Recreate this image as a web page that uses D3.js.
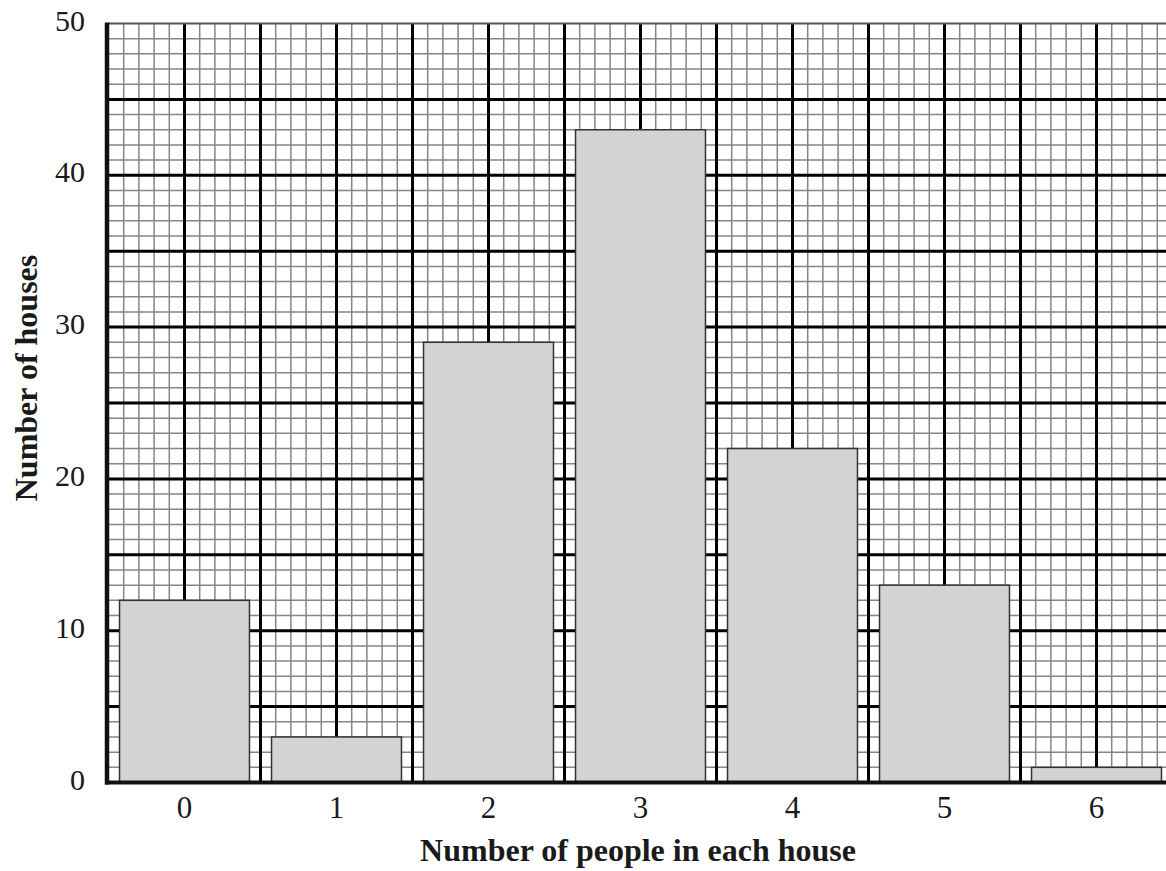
<!DOCTYPE html>
<html>
<head>
<meta charset="utf-8">
<script src="https://cdn.jsdelivr.net/npm/d3@7"></script>
<style>
  html, body { margin: 0; padding: 0; background: #fff; overflow: hidden; }
  svg { display: block; }
</style>
</head>
<body>
<svg id="chart" width="1166" height="871"></svg>
<script>
// Data
const categories = [0, 1, 2, 3, 4, 5, 6];
const houses = [12, 3, 29, 43, 22, 13, 1];
const yTickLabels = [0, 10, 20, 30, 40, 50];
const xTitle = "Number of people in each house";
const yTitle = "Number of houses";

(function () {
const svg = d3.select("#chart");
const pLeft = 108.5, pRight = 1172.5, pTop = 23.5, pBottom = 782.5;

const x = d3.scaleLinear().domain([-0.5, 6.5]).range([pLeft, pRight]);
const y = d3.scaleLinear().domain([0, 50]).range([pBottom, pTop]);

const g = svg.append("g");

// Minor grid
const minorX = d3.range(0, 71).filter(i => i % 5 !== 0).map(i => -0.5 + i * 0.1);
const minorY = d3.range(0, 51).filter(v => v % 5 !== 0);
g.selectAll("line.mx").data(minorX).join("line")
  .attr("x1", d => x(d)).attr("x2", d => x(d))
  .attr("y1", y(50)).attr("y2", y(0))
  .attr("stroke", "#858585").attr("stroke-width", 1.5);
g.selectAll("line.my").data(minorY).join("line")
  .attr("y1", d => y(d)).attr("y2", d => y(d))
  .attr("x1", pLeft).attr("x2", pRight)
  .attr("stroke", "#858585").attr("stroke-width", 1.5);

// Major grid
const majorX = d3.range(1, 15).map(i => -0.5 + i * 0.5);
const majorY = d3.range(5, 50, 5);
g.selectAll("line.MX").data(majorX).join("line")
  .attr("x1", d => x(d)).attr("x2", d => x(d))
  .attr("y1", y(50)).attr("y2", y(0))
  .attr("stroke", "#000").attr("stroke-width", 3);
g.selectAll("line.MY").data(majorY).join("line")
  .attr("y1", d => y(d)).attr("y2", d => y(d))
  .attr("x1", pLeft).attr("x2", pRight)
  .attr("stroke", "#000").attr("stroke-width", 3);
// top border
g.append("line").attr("x1", pLeft).attr("x2", pRight)
  .attr("y1", y(50)).attr("y2", y(50))
  .attr("stroke", "#555").attr("stroke-width", 2);

// Bars
const bw = 0.855;
g.selectAll("rect.bar").data(categories).join("rect")
  .attr("x", d => x(d - bw / 2))
  .attr("width", x(bw) - x(0))
  .attr("y", (d, i) => y(houses[i]))
  .attr("height", (d, i) => y(0) - y(houses[i]))
  .attr("fill", "#d2d3d5").attr("stroke", "#333").attr("stroke-width", 1.5);

// Axes lines
g.append("line").attr("x1", pLeft - 1.5).attr("x2", pLeft - 1.5)
  .attr("y1", y(50) - 1).attr("y2", y(0) + 2)
  .attr("stroke", "#111").attr("stroke-width", 4.5);
g.append("line").attr("x1", pLeft - 3.5).attr("x2", pRight)
  .attr("y1", y(0)).attr("y2", y(0))
  .attr("stroke", "#111").attr("stroke-width", 4);

// Tick labels
const font = "'Liberation Serif', 'Times New Roman', serif";
svg.selectAll("text.yt").data(yTickLabels).join("text")
  .attr("x", 85).attr("y", d => y(d) + 7)
  .attr("text-anchor", "end")
  .attr("font-family", font).attr("font-size", 30).attr("fill", "#1a1a1a")
  .text(d => d);
svg.selectAll("text.xt").data(categories).join("text")
  .attr("x", d => x(d)).attr("y", 818)
  .attr("text-anchor", "middle")
  .attr("font-family", font).attr("font-size", 31).attr("fill", "#1a1a1a")
  .text(d => d);

// Titles
svg.append("text").attr("x", 638).attr("y", 861)
  .attr("text-anchor", "middle")
  .attr("font-family", font).attr("font-size", 32).attr("font-weight", "bold").attr("fill", "#1a1a1a")
  .text(xTitle);
svg.append("text")
  .attr("transform", "translate(37,378) rotate(-90)")
  .attr("text-anchor", "middle")
  .attr("font-family", font).attr("font-size", 32).attr("font-weight", "bold").attr("fill", "#1a1a1a")
  .text(yTitle);
})();
</script>
</body>
</html>
